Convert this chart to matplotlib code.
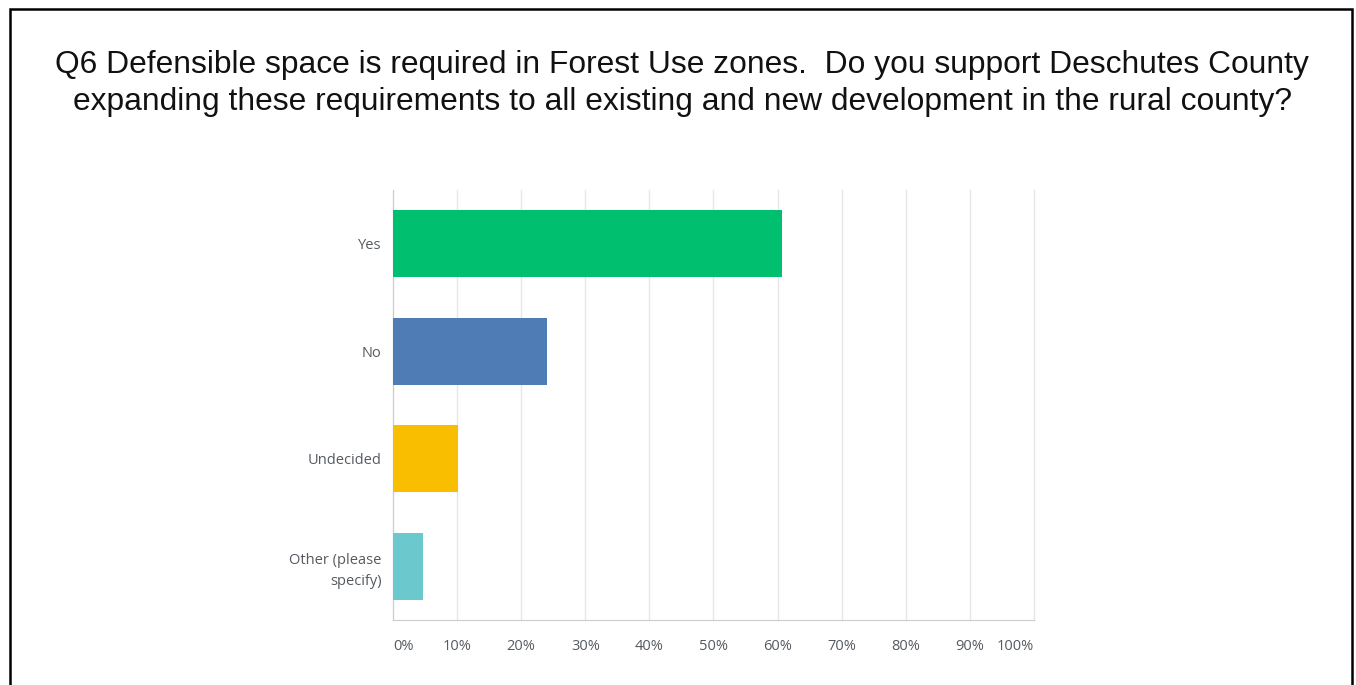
import matplotlib.pyplot as plt
from matplotlib.patches import Rectangle

categories = ["Yes", "No", "Undecided", "Other (please\nspecify)"]
values = [60.7, 24.0, 10.1, 4.7]
colors = ["#00BF6F", "#507CB6", "#F9BE00", "#6BC8CD"]
xticks = [0, 10, 20, 30, 40, 50, 60, 70, 80, 90, 100]
xtick_labels = [f"{t}%" for t in xticks]
title = ("Q6 Defensible space is required in Forest Use zones.  Do you support Deschutes County\n"
         "expanding these requirements to all existing and new development in the rural county?")

fig = plt.figure(figsize=(13.56, 6.85), dpi=100)
ax = fig.add_axes([0.2898, 0.0949, 0.4727, 0.6277])

ypos = list(range(len(categories)))
ax.barh(ypos, values, height=0.62, color=colors, zorder=3)
ax.set_ylim(len(categories) - 0.5, -0.5)
ax.set_xlim(0, 100)

ax.set_xticks(xticks)
ax.set_xticklabels(xtick_labels)
ax.set_yticks(ypos)
ax.set_yticklabels(categories, ha="right", linespacing=1.5)
ax.tick_params(axis="x", length=0, pad=14, labelsize=10.5, labelcolor="#555a60")
ax.tick_params(axis="y", length=0, pad=8, labelsize=10.5, labelcolor="#555a60")
for lab in ax.get_xticklabels() + ax.get_yticklabels():
    lab.set_fontfamily("Open Sans")
xl = ax.get_xticklabels()
xl[0].set_ha("left")
xl[-1].set_ha("right")

ax.grid(axis="x", color="#e6e6e6", linewidth=1, zorder=0)
for gl in ax.get_xgridlines():
    gl.set_clip_on(False)
for s in ["top", "right"]:
    ax.spines[s].set_visible(False)
ax.spines["left"].set_color("#cccccc")
ax.spines["bottom"].set_color("#cccccc")

fig.text(0.503, 0.927, title, ha="center", va="top", fontsize=22.9,
         family="Liberation Sans", linespacing=1.31, color="#111111")

fig.patches.append(Rectangle((9.5 / 1356, -0.05), 1342 / 1356, 1.05 - 9.5 / 685,
                             transform=fig.transFigure, fill=False,
                             edgecolor="black", linewidth=1.8))

fig.savefig("out.png", dpi=100)
